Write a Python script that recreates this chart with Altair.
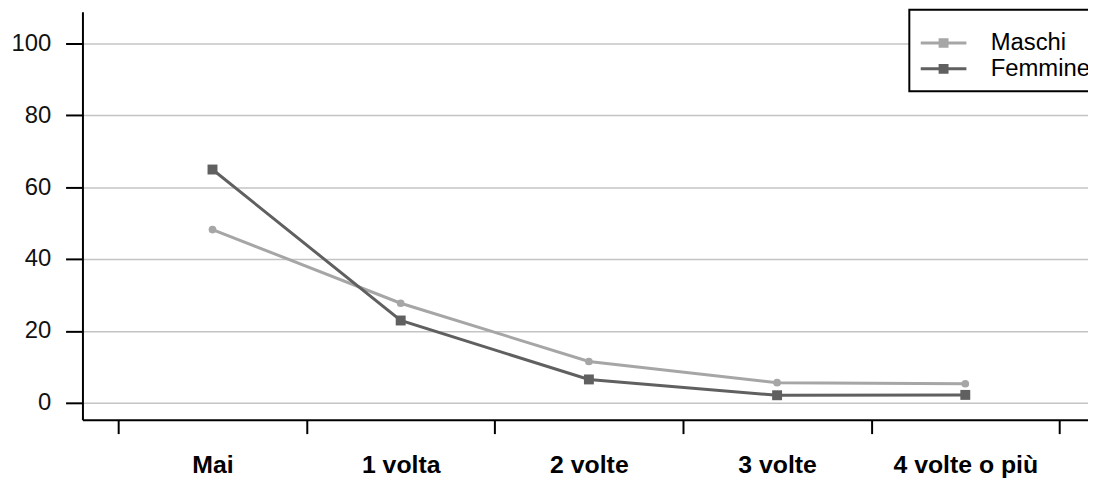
import json
import altair as alt
import pandas as pd

categories = ["Mai", "1 volta", "2 volte", "3 volte", "4 volte o più"]
series = ["Maschi", "Femmine"]
maschi = [48.2, 27.7, 11.5, 5.6, 5.3]
femmine = [64.9, 22.9, 6.5, 2.1, 2.2]
y_ticks = [0, 20, 40, 60, 80, 100]
colors = ["#a6a6a6", "#606060"]
shapes = ["circle", "square"]
sizes = [60, 100]

rows = []
for name, vals in zip(series, [maschi, femmine]):
    for i, (c, v) in enumerate(zip(categories, vals)):
        rows.append({"cat": c, "idx": i, "serie": name, "val": v})
df = pd.DataFrame(rows)

FONT = "Liberation Sans"
step_ticks = [i - 0.5 for i in range(len(categories) + 1)]
label_expr = (
    "datum.value < %d ? %s[round(datum.value + 0.5)] : ''"
    % (len(categories) - 1, json.dumps(categories))
)

x_enc = alt.X(
    "idx:Q",
    scale=alt.Scale(domain=[-0.691, 4.652], nice=False, zero=False),
    axis=alt.Axis(
        values=step_ticks,
        labelExpr=label_expr,
        labelOffset=94.8,
        labelFlush=False,
        labelOverlap=False,
        labelBound=False,
        tickSize=14,
        tickWidth=2,
        tickColor="black",
        domainColor="black",
        domainWidth=2,
        grid=False,
        labelFont=FONT,
        labelFontSize=25,
        labelFontWeight="bold",
        labelColor="black",
        labelPadding=19,
        title=None,
    ),
)
y_enc = alt.Y(
    "val:Q",
    scale=alt.Scale(domain=[-4.7, 108.8], nice=False, zero=False),
    axis=alt.Axis(
        values=y_ticks,
        tickSize=17,
        tickWidth=2,
        tickColor="black",
        domainColor="black",
        domainWidth=2,
        grid=True,
        gridColor="#c4c4c4",
        gridWidth=1.5,
        labelFont=FONT,
        labelFontSize=24,
        labelColor="#111111",
        labelPadding=15,
        title=None,
    ),
)

# legend symbol: horizontal line with a square marker (filled by stacked strokes)
legend_path = (
    "M-1,0H2.833"
    "M0.5,-0.283H1.333M0.5,-0.142H1.333M0.5,0H1.333"
    "M0.5,0.142H1.333M0.5,0.283H1.333"
)

color_scale = alt.Scale(domain=series, range=colors)

lines = alt.Chart(df).mark_line(strokeWidth=3).encode(
    x=x_enc,
    y=y_enc,
    color=alt.Color(
        "serie:N",
        scale=color_scale,
        sort=series,
        legend=alt.Legend(
            title=" ",
            titleFontSize=1,
            titlePadding=9,
            orient="none",
            legendX=833,
            legendY=-2,
            direction="vertical",
            strokeColor="black",
            fillColor="white",
            padding=10,
            cornerRadius=0,
            symbolType=legend_path,
            symbolSize=576,
            symbolStrokeWidth=3,
            rowPadding=0,
            labelFont=FONT,
            labelFontSize=24,
            labelColor="black",
            labelOffset=45,
            labelLimit=300,
        ),
    ),
    order=alt.Order("idx:Q"),
)

point_layers = []
for name, col, shp, sz in zip(series, colors, shapes, sizes):
    point_layers.append(
        alt.Chart(df)
        .transform_filter(alt.datum.serie == name)
        .mark_point(filled=True, opacity=1, strokeWidth=0, shape=shp, size=sz, color=col)
        .encode(x=x_enc, y=y_enc)
    )

chart = (
    alt.layer(lines, *point_layers)
    .properties(
        width=1013,
        height=411,
        autosize=alt.AutoSizeParams(type="none"),
        padding={"left": 75, "top": 2, "right": 0, "bottom": 60},
    )
    .configure_view(stroke=None)
    .configure_legend(strokeWidth=2)
)

chart.save("out.html", embed_options={"renderer": "svg", "actions": False})
